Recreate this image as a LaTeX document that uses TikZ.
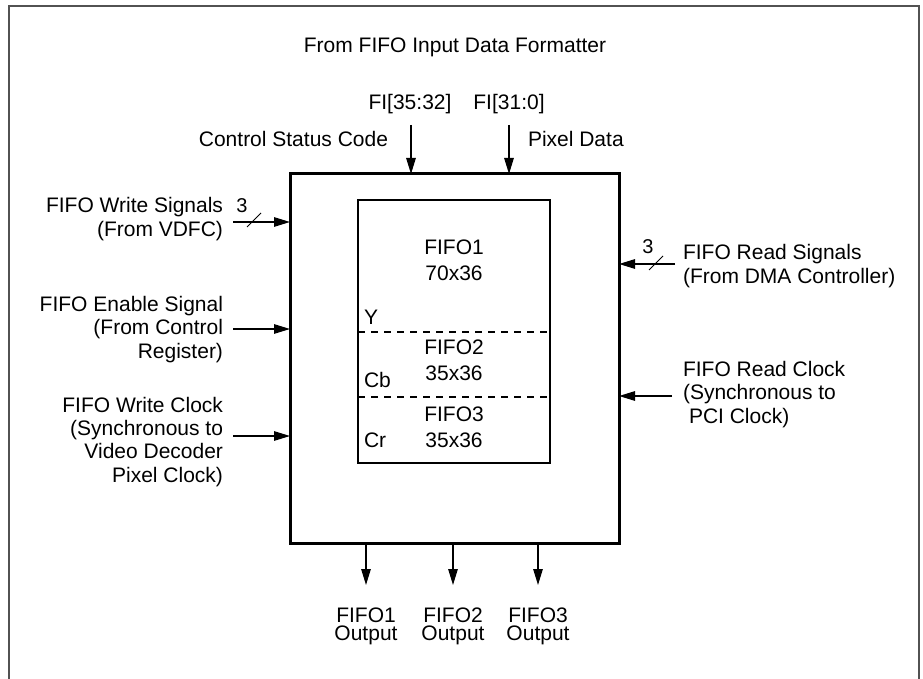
\documentclass[tikz,border=0pt]{standalone}
\usepackage{fontspec}
\setmainfont{Liberation Sans}
\usetikzlibrary{arrows.meta}
\begin{document}
\begin{tikzpicture}[x=1pt,y=-1pt,
  every node/.style={inner sep=0pt, outer sep=0pt, font=\fontsize{21}{23.3}\selectfont},
  sig/.style={line width=1.3pt, -{Triangle[length=16pt,width=9.5pt]}},
  buswidth/.style={font=\fontsize{20}{22}\selectfont},
  slash/.style={line width=0.9pt},
  sep/.style={line width=2pt, dash pattern=on 7pt off 6pt},
  lbl/.style={align=right, anchor=base east},
  rlbl/.style={align=left, anchor=base west},
  outl/.style={align=center, anchor=base, font=\fontsize{21}{18}\selectfont},
  fifol/.style={align=center, anchor=base, font=\fontsize{21}{26}\selectfont}]
\useasboundingbox (0,0) rectangle (923,679);
% outer frame (open at the bottom)
\draw[line width=2pt, color=black!68] (9,679) -- (9,6) -- (919,6) -- (919,679);

% main block and FIFO block
\node[draw, line width=3pt, minimum width=329pt, minimum height=369pt] (main) at (454.5,358.5) {};
\node[draw, line width=2.4pt, minimum width=192pt, minimum height=263pt] (fifo) at (454,331.5) {};
\draw[sep] (fifo.west |- 0,332) -- (fifo.east |- 0,332);
\draw[sep] (fifo.west |- 0,397) -- (fifo.east |- 0,397);

% (base anchor of a multi-line node = baseline of its last line)
\node[fifol] (f1) at (454,280) {FIFO1\\70x36};
\node[fifol] (f2) at (454,380) {FIFO2\\35x36};
\node[fifol] (f3) at (454,447) {FIFO3\\35x36};
\node[anchor=base west] (y) at (364,324) {Y};
\node[anchor=base west] (cb) at (364,387) {Cb};
\node[anchor=base west] (cr) at (364,447) {Cr};

% top
\node[anchor=base] (title) at (455,53) {From FIFO Input Data Formatter};
\node[anchor=base] (fi1) at (410,110) {FI[35:32]};
\node[anchor=base] (fi2) at (509,110) {FI[31:0]};
\node[anchor=base east] (csc) at (388,147) {Control Status Code};
\node[anchor=base west] (pd) at (528,147) {Pixel Data};
\coordinate (t1) at (411,125);
\coordinate (t2) at (509,125);
\draw[sig] (t1) -- (t1 |- main.north);
\draw[sig] (t2) -- (t2 |- main.north);

% left
\node[lbl] (ws) at (223,236) {FIFO Write Signals\\(From VDFC)};
\node[lbl] (es) at (223,358) {FIFO Enable Signal\\(From Control\\Register)};
\node[lbl] (wc) at (223,482) {FIFO Write Clock\\(Synchronous to\\Video Decoder\\Pixel Clock)};
\coordinate (l1) at (233,222);
\coordinate (l2) at (233,329);
\coordinate (l3) at (233,436);
\draw[sig] (l1) -- (l1 -| main.west);
\draw[sig] (l2) -- (l2 -| main.west);
\draw[sig] (l3) -- (l3 -| main.west);
\draw[slash] (247,227) -- (261,213);
\node[buswidth, anchor=base] (n1) at (242,212) {3};

% right
\node[rlbl] (rs) at (683,283) {FIFO Read Signals\\(From DMA Controller)};
\node[rlbl] (rc) at (683,423) {FIFO Read Clock\\(Synchronous to\\\hspace{6pt}PCI Clock)};
\coordinate (r1) at (675,264);
\coordinate (r2) at (672,396);
\draw[sig] (r1) -- (r1 -| main.east);
\draw[sig] (r2) -- (r2 -| main.east);
\draw[slash] (649,270) -- (663,256);
\node[buswidth, anchor=base] (n2) at (648,253) {3};

% bottom
\coordinate (b1) at (366,585);
\coordinate (b2) at (453,585);
\coordinate (b3) at (538,585);
\draw[sig] (b1 |- main.south) -- (b1);
\draw[sig] (b2 |- main.south) -- (b2);
\draw[sig] (b3 |- main.south) -- (b3);
\node[outl] (o1) at (366,640) {FIFO1\\Output};
\node[outl] (o2) at (453,640) {FIFO2\\Output};
\node[outl] (o3) at (538,640) {FIFO3\\Output};
\end{tikzpicture}
\end{document}
